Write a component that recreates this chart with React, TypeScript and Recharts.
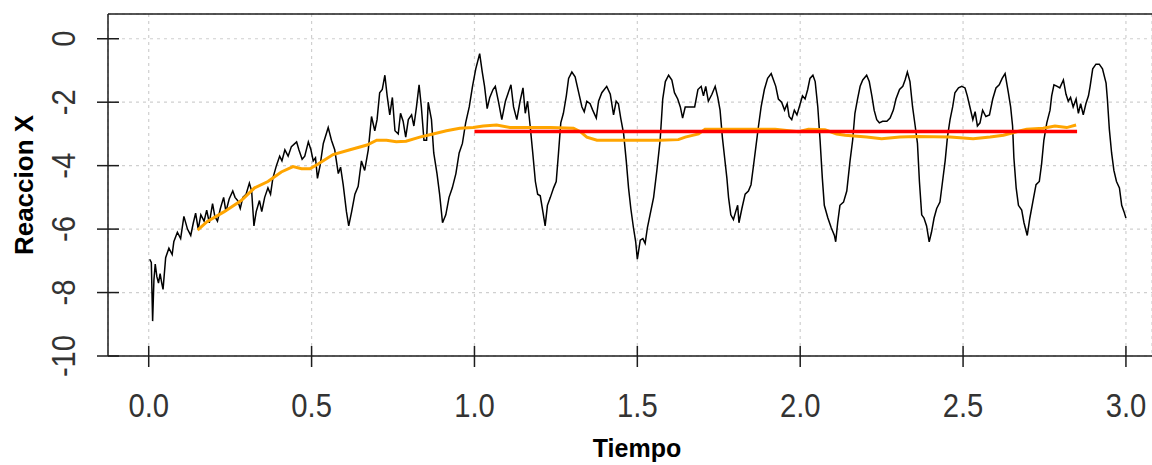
import { CartesianGrid, Label, Line, LineChart, ReferenceLine, XAxis, YAxis } from "recharts";

// Reaccion X medida (negro)
const serieX: [number, number][] = [
  [0.003, -6.95], [0.008, -7.05], [0.012, -8.9], [0.016, -7.6], [0.02, -7.1], [0.025, -7.5],
  [0.03, -7.7], [0.035, -7.4], [0.04, -7.7], [0.044, -7.9], [0.052, -6.9], [0.062, -6.6],
  [0.072, -6.8], [0.077, -6.4], [0.088, -6.1], [0.098, -6.3], [0.108, -5.6], [0.119, -6.0],
  [0.129, -6.2], [0.137, -5.8], [0.144, -5.5], [0.152, -6.0], [0.16, -5.55], [0.17, -5.75],
  [0.178, -5.4], [0.186, -5.8], [0.196, -5.2], [0.203, -5.6], [0.211, -5.75], [0.22, -5.35],
  [0.23, -5.0], [0.237, -5.45], [0.247, -5.05], [0.258, -4.8], [0.265, -5.0], [0.273, -5.1],
  [0.281, -5.35], [0.289, -5.0], [0.299, -4.9], [0.309, -4.55], [0.316, -4.8], [0.323, -5.9],
  [0.33, -5.45], [0.34, -5.1], [0.347, -5.45], [0.356, -5.0], [0.366, -4.7], [0.374, -4.9],
  [0.381, -4.4], [0.392, -4.0], [0.402, -3.7], [0.409, -3.85], [0.418, -3.5], [0.428, -3.7],
  [0.438, -3.4], [0.454, -3.25], [0.461, -3.5], [0.471, -3.8], [0.479, -3.7], [0.49, -3.25],
  [0.498, -3.5], [0.505, -3.85], [0.512, -3.75], [0.518, -4.4], [0.526, -4.0], [0.536, -3.3],
  [0.551, -2.8], [0.561, -3.2], [0.571, -3.5], [0.582, -4.25], [0.589, -4.05], [0.597, -4.6],
  [0.607, -5.45], [0.614, -5.9], [0.623, -5.45], [0.633, -4.9], [0.643, -4.65], [0.653, -3.85],
  [0.663, -4.15], [0.674, -3.5], [0.684, -2.45], [0.694, -2.9], [0.701, -2.55], [0.709, -1.7],
  [0.717, -1.6], [0.725, -1.15], [0.732, -1.8], [0.74, -2.4], [0.748, -1.85], [0.756, -2.9],
  [0.766, -3.0], [0.773, -2.35], [0.781, -2.6], [0.789, -3.1], [0.797, -2.55], [0.807, -2.4],
  [0.814, -2.75], [0.822, -2.15], [0.83, -1.45], [0.837, -2.15], [0.845, -3.2], [0.853, -3.2],
  [0.858, -2.0], [0.868, -2.55], [0.875, -3.6], [0.885, -4.25], [0.893, -4.9], [0.902, -5.8],
  [0.912, -5.55], [0.922, -5.0], [0.932, -4.7], [0.943, -4.25], [0.953, -3.6], [0.963, -3.3],
  [0.973, -2.65], [0.984, -2.15], [0.994, -1.5], [1.004, -0.95], [1.016, -0.47], [1.024, -1.05],
  [1.031, -1.5], [1.039, -2.2], [1.047, -1.85], [1.057, -1.6], [1.064, -1.5], [1.074, -2.0],
  [1.084, -2.55], [1.095, -1.97], [1.112, -1.45], [1.12, -2.15], [1.13, -2.55], [1.14, -1.97],
  [1.149, -1.55], [1.156, -2.35], [1.163, -1.97], [1.171, -2.75], [1.179, -3.6], [1.187, -4.5],
  [1.194, -4.9], [1.202, -4.95], [1.21, -5.45], [1.217, -5.9], [1.224, -5.25], [1.233, -5.0],
  [1.243, -4.7], [1.251, -4.5], [1.258, -3.6], [1.265, -2.65], [1.273, -2.35], [1.282, -1.8],
  [1.289, -1.25], [1.299, -1.05], [1.309, -1.2], [1.32, -1.7], [1.33, -2.15], [1.337, -2.3],
  [1.345, -1.97], [1.355, -2.05], [1.363, -2.25], [1.374, -2.5], [1.381, -1.97], [1.391, -1.7],
  [1.406, -1.5], [1.417, -1.75], [1.427, -2.4], [1.435, -1.97], [1.442, -2.05], [1.449, -2.5],
  [1.458, -3.0], [1.466, -3.85], [1.473, -4.7], [1.48, -5.35], [1.488, -5.95], [1.495, -6.4],
  [1.5, -6.95], [1.509, -6.35], [1.517, -6.3], [1.524, -6.45], [1.531, -5.95], [1.539, -5.55],
  [1.55, -5.0], [1.56, -4.15], [1.57, -3.2], [1.578, -1.9], [1.586, -1.35], [1.596, -1.15],
  [1.606, -1.3], [1.614, -1.7], [1.624, -1.9], [1.632, -2.15], [1.639, -2.5], [1.647, -2.15],
  [1.662, -2.15], [1.676, -2.15], [1.686, -1.6], [1.696, -1.5], [1.703, -1.8], [1.71, -1.5],
  [1.718, -1.97], [1.729, -1.75], [1.739, -1.5], [1.747, -1.85], [1.754, -2.25], [1.761, -3.1],
  [1.768, -3.75], [1.775, -4.4], [1.78, -5.0], [1.787, -5.55], [1.795, -5.7], [1.802, -5.45],
  [1.808, -5.25], [1.812, -5.8], [1.821, -5.35], [1.831, -4.9], [1.841, -4.8], [1.849, -4.6],
  [1.856, -4.05], [1.864, -3.4], [1.872, -2.75], [1.88, -2.15], [1.89, -1.6], [1.9, -1.25],
  [1.911, -1.1], [1.918, -1.3], [1.925, -1.5], [1.933, -1.9], [1.943, -2.0], [1.952, -2.25],
  [1.96, -2.05], [1.966, -2.45], [1.974, -2.55], [1.982, -2.25], [1.99, -2.4], [2.0, -2.05],
  [2.007, -1.8], [2.015, -1.9], [2.023, -1.6], [2.03, -1.25], [2.039, -1.15], [2.046, -1.35],
  [2.054, -2.15], [2.061, -3.2], [2.068, -4.4], [2.074, -5.25], [2.085, -5.65], [2.095, -5.95],
  [2.105, -6.2], [2.109, -6.4], [2.115, -5.8], [2.122, -5.25], [2.133, -5.15], [2.143, -4.8],
  [2.153, -3.85], [2.161, -3.2], [2.168, -2.35], [2.176, -1.9], [2.184, -1.5], [2.192, -1.3],
  [2.204, -1.15], [2.212, -1.35], [2.22, -1.8], [2.227, -2.25], [2.235, -2.55], [2.243, -2.65],
  [2.253, -2.6], [2.266, -2.6], [2.276, -2.5], [2.286, -2.25], [2.294, -1.9], [2.305, -1.6],
  [2.315, -1.5], [2.322, -1.3], [2.329, -1.05], [2.337, -1.35], [2.345, -2.15], [2.353, -2.75],
  [2.36, -3.3], [2.366, -4.5], [2.373, -5.55], [2.38, -5.65], [2.388, -5.9], [2.396, -6.4],
  [2.403, -6.1], [2.411, -5.65], [2.419, -5.35], [2.429, -5.15], [2.437, -4.5], [2.445, -3.85],
  [2.452, -3.1], [2.46, -2.55], [2.468, -2.15], [2.475, -1.7], [2.486, -1.55], [2.496, -1.5],
  [2.506, -1.55], [2.513, -1.8], [2.521, -2.15], [2.53, -2.55], [2.537, -2.3], [2.544, -2.75],
  [2.552, -2.65], [2.56, -2.25], [2.57, -2.45], [2.581, -2.4], [2.591, -1.9], [2.601, -1.55],
  [2.611, -1.45], [2.62, -1.25], [2.629, -1.1], [2.639, -1.7], [2.646, -2.15], [2.652, -2.75],
  [2.656, -3.75], [2.663, -4.7], [2.67, -5.25], [2.68, -5.4], [2.687, -5.8], [2.697, -6.2],
  [2.705, -5.65], [2.714, -5.15], [2.724, -4.6], [2.734, -4.5], [2.741, -3.95], [2.748, -3.2],
  [2.757, -2.65], [2.767, -2.25], [2.772, -1.8], [2.779, -1.45], [2.789, -1.5], [2.797, -1.55],
  [2.808, -1.3], [2.816, -1.75], [2.823, -1.97], [2.83, -1.85], [2.838, -2.15], [2.847, -1.9],
  [2.854, -2.35], [2.861, -2.05], [2.869, -2.4], [2.877, -2.05], [2.885, -1.8], [2.89, -1.5],
  [2.898, -0.95], [2.908, -0.8], [2.918, -0.8], [2.928, -0.95], [2.939, -1.4], [2.943, -1.9],
  [2.949, -2.85], [2.956, -3.6], [2.963, -4.15], [2.971, -4.5], [2.98, -4.7], [2.987, -5.25],
  [2.994, -5.45], [3.0, -5.65],
];

// media movil (naranja)
const serieMedia: [number, number][] = [
  [0.15, -6.03], [0.18, -5.76], [0.232, -5.45], [0.284, -5.1], [0.325, -4.7], [0.366, -4.5],
  [0.407, -4.2], [0.443, -4.03], [0.469, -4.1], [0.495, -4.1], [0.52, -3.95], [0.566, -3.65],
  [0.618, -3.5], [0.67, -3.35], [0.7, -3.2], [0.73, -3.2], [0.76, -3.25], [0.79, -3.23],
  [0.832, -3.1], [0.873, -3.0], [0.914, -2.9], [0.955, -2.82], [0.996, -2.8], [1.027, -2.75],
  [1.068, -2.72], [1.11, -2.8], [1.171, -2.8], [1.233, -2.8], [1.304, -2.82], [1.325, -2.93],
  [1.345, -3.1], [1.376, -3.2], [1.458, -3.2], [1.529, -3.2], [1.57, -3.2], [1.626, -3.18],
  [1.647, -3.1], [1.688, -3.0], [1.708, -2.85], [1.79, -2.85], [1.862, -2.85], [1.923, -2.85],
  [1.995, -2.93], [2.025, -2.85], [2.076, -2.87], [2.112, -3.0], [2.138, -3.04], [2.204, -3.1],
  [2.25, -3.15], [2.306, -3.1], [2.358, -3.08], [2.46, -3.1], [2.531, -3.15], [2.583, -3.1],
  [2.624, -3.04], [2.695, -2.85], [2.746, -2.82], [2.782, -2.75], [2.818, -2.8], [2.847, -2.72],
];

// nivel medio (rojo)
const serieNivel: [number, number][] = [
  [1.0, -2.92],
  [2.85, -2.92],
];

const xTicks = [0, 0.5, 1, 1.5, 2, 2.5, 3];
const yTicks = [-10, -8, -6, -4, -2, 0];
const xDomain: [number, number] = [-0.125, 3.08];
const yDomain: [number, number] = [-10, 0.78];

const toRows = (s: [number, number][]) => s.map(([t, v]) => ({ t, v }));

const tickFont = "'Liberation Sans', Arial, sans-serif";
const titleFont = "'Liberation Sans', Arial, sans-serif";
const ink = "#1c1c1c";

function XTick({ x, y, payload }: any) {
  return (
    <g>
      <line x1={x} x2={x} y1={y - 10} y2={y + 11} stroke={ink} strokeWidth={1.5} />
      <text
        transform={`translate(${x} ${y + 61}) scale(0.86 1)`}
        textAnchor="middle"
        fontFamily={tickFont}
        fontSize={34}
        fill="#333"
      >
        {Number(payload.value).toFixed(1)}
      </text>
    </g>
  );
}

function YTick({ x, y, payload }: any) {
  return (
    <g>
      <line x1={x - 11} x2={x + 11} y1={y} y2={y} stroke={ink} strokeWidth={1.5} />
      <text
        transform={`translate(${x - 33} ${y}) rotate(-90) scale(0.86 1)`}
        textAnchor="middle"
        fontFamily={tickFont}
        fontSize={34}
        fill="#333"
      >
        {String(payload.value)}
      </text>
    </g>
  );
}

export default function App() {
  return (
    <div
      style={{
        position: "fixed",
        left: 0,
        top: 0,
        width: 1152,
        height: 465,
        overflow: "hidden",
        background: "#fff",
      }}
    >
      <LineChart width={1152} height={465} margin={{ top: 14, right: 0, bottom: 0, left: 0 }}>
        <CartesianGrid stroke="#cfcfcf" strokeDasharray="3 4" strokeWidth={1.2} />
        <XAxis
          dataKey="t"
          type="number"
          domain={xDomain}
          allowDataOverflow
          ticks={xTicks}
          interval={0}
          height={109}
          tickSize={0}
          tickMargin={0}
          tickLine={false}
          axisLine={{ stroke: ink, strokeWidth: 1.5 }}
          tick={<XTick />}
        >
          <Label
            content={({ viewBox }: any) => (
              <text
                x={viewBox.x + viewBox.width / 2 + 7}
                y={viewBox.y + 101}
                textAnchor="middle"
                fontFamily={titleFont}
                fontWeight="bold"
                fontSize={25}
                fill="#000"
              >
                Tiempo
              </text>
            )}
          />
        </XAxis>
        <YAxis
          type="number"
          domain={yDomain}
          allowDataOverflow
          ticks={yTicks}
          interval={0}
          width={108}
          tickSize={0}
          tickMargin={0}
          tickLine={false}
          axisLine={{ stroke: ink, strokeWidth: 1.5 }}
          tick={<YTick />}
        >
          <Label
            content={({ viewBox }: any) => {
              const cx = viewBox.x + 33;
              const cy = viewBox.y + viewBox.height / 2;
              return (
                <text
                  x={cx}
                  y={cy}
                  transform={`rotate(-90 ${cx} ${cy})`}
                  textAnchor="middle"
                  fontFamily={titleFont}
                  fontWeight="bold"
                  fontSize={26}
                  fill="#000"
                >
                  Reaccion X
                </text>
              );
            }}
          />
        </YAxis>
        <ReferenceLine y={yDomain[1]} stroke={ink} strokeWidth={1.5} ifOverflow="visible" />
        <Line
          data={toRows(serieX)}
          dataKey="v"
          type="linear"
          stroke="#000"
          strokeWidth={1.5}
          dot={false}
          activeDot={false}
          isAnimationActive={false}
        />
        <Line
          data={toRows(serieMedia)}
          dataKey="v"
          type="linear"
          stroke="#ffa500"
          strokeWidth={3}
          dot={false}
          activeDot={false}
          isAnimationActive={false}
        />
        <Line
          data={toRows(serieNivel)}
          dataKey="v"
          type="linear"
          stroke="#ff0000"
          strokeWidth={3.5}
          dot={false}
          activeDot={false}
          isAnimationActive={false}
        />
      </LineChart>
    </div>
  );
}
